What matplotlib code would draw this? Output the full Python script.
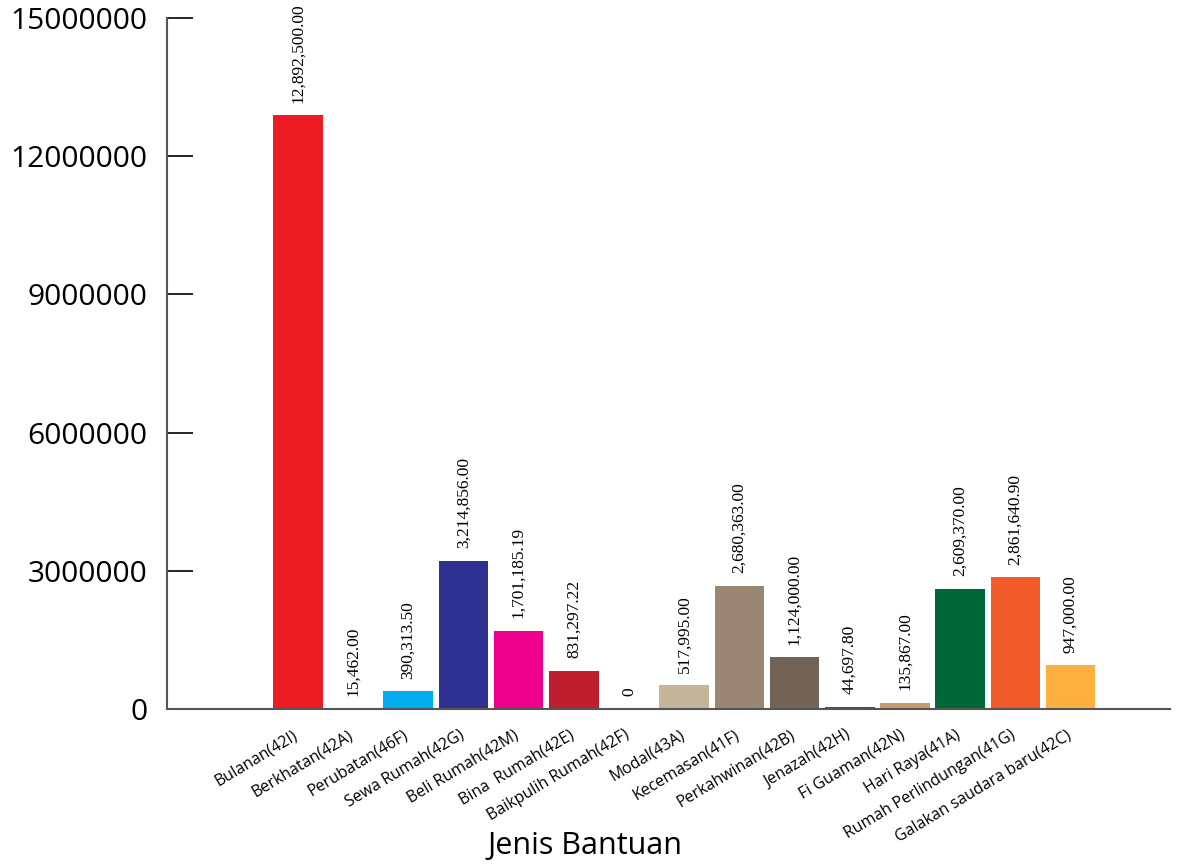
import matplotlib.pyplot as plt
import matplotlib.transforms as mtransforms

# jenis bantuan, jumlah (RM) and bar colours
categories = ["Bulanan(42I)", "Berkhatan(42A)", "Perubatan(46F)", "Sewa Rumah(42G)",
              "Beli Rumah(42M)", "Bina  Rumah(42E)", "Baikpulih Rumah(42F)", "Modal(43A)",
              "Kecemasan(41F)", "Perkahwinan(42B)", "Jenazah(42H)", "Fi Guaman(42N)",
              "Hari Raya(41A)", "Rumah Perlindungan(41G)", "Galakan saudara baru(42C)"]
values = [12892500.00, 15462.00, 390313.50, 3214856.00, 1701185.19, 831297.22, 0,
          517995.00, 2680363.00, 1124000.00, 44697.80, 135867.00, 2609370.00,
          2861640.90, 947000.00]
colors = ["#ED1C24", "#00A651", "#00AEEF", "#2E3192", "#EC008C", "#BE1E2D", "#7A8B4A",
          "#C4B59B", "#998675", "#736357", "#594A42", "#C69C6D", "#006838",
          "#F15A29", "#FBB040"]
yticks = [0, 3000000, 6000000, 9000000, 12000000, 15000000]

fig = plt.figure(figsize=(11.95, 8.64), dpi=100)
ax = fig.add_axes([0.1397, 0.1794, 0.8393, 0.7997])

x = list(range(len(categories)))
bars = ax.bar(x, values, width=0.9, color=colors)

# value labels above bars
for xi, v in zip(x, values):
    txt = "0" if v == 0 else "{:,.2f}".format(v)
    ax.annotate(txt, (xi, v), xytext=(0, 9), textcoords="offset points",
                ha="center", va="bottom", rotation=90,
                fontsize=12.5, family="Liberation Serif")

ax.set_xlim(-2.37, 15.8)
ax.set_ylim(0, 15000000)
ax.set_yticks(yticks)
ax.set_yticklabels([str(t) for t in yticks], fontsize=21.5, family="Open Sans")
ax.tick_params(axis="y", direction="in", length=19, width=1.2, pad=14, color="black")

ax.set_xticks(x)
ax.set_xticklabels(categories, rotation=31, ha="right", rotation_mode="anchor",
                   fontsize=11.5, family="Open Sans")
ax.tick_params(axis="x", length=0, pad=13)
shift = mtransforms.ScaledTranslation(-5 / 100, 0, fig.dpi_scale_trans)
for lbl in ax.get_xticklabels():
    lbl.set_transform(lbl.get_transform() + shift)

ax.spines["top"].set_visible(False)
ax.spines["right"].set_visible(False)
ax.spines["left"].set_color("#555555")
ax.spines["bottom"].set_color("#555555")
ax.spines["left"].set_linewidth(1.5)
ax.spines["bottom"].set_linewidth(1.5)

ax.set_xlabel("Jenis Bantuan", fontsize=22, family="Open Sans")
ax.xaxis.set_label_coords((585 - 167) / 1003, -0.177)

fig.savefig("out.png", dpi=100)
